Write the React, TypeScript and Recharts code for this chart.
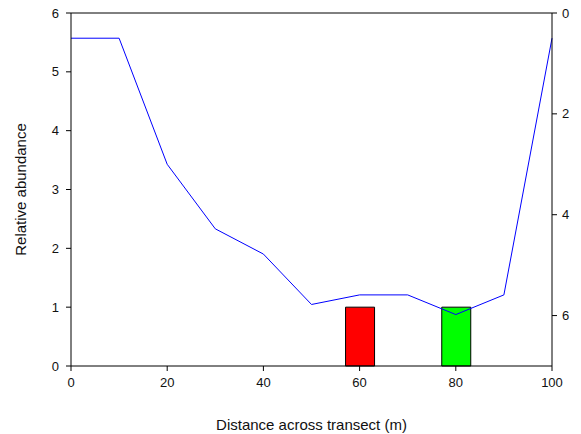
import React from 'react';
import { ComposedChart, Line, Bar, Cell, XAxis, YAxis, ReferenceLine } from 'recharts';

const distances = [0, 10, 20, 30, 40, 50, 60, 70, 80, 90, 100];
const depth = [0.5, 0.5, 3.0, 4.28, 4.78, 5.78, 5.59, 5.59, 5.98, 5.59, 0.5];
const barPositions = [60, 80];
const barValues = [1, 1];
const barColors = ['#ff0000', '#00ff00'];
const xTicks = [0, 20, 40, 60, 80, 100];
const leftTicks = [0, 1, 2, 3, 4, 5, 6];
const rightTicks = [0, 2, 4, 6];

const data = distances.map((d, i) => {
  const bi = barPositions.indexOf(d);
  return {
    x: d,
    depth: depth[i],
    abundance: bi >= 0 ? barValues[bi] : null,
    color: bi >= 0 ? barColors[bi] : 'none',
  };
});

const tickFont = { fontFamily: 'Liberation Sans, Arial, sans-serif', fontSize: 13, fill: '#111' };
const titleFont = { fontFamily: 'Liberation Sans, Arial, sans-serif', fontSize: 15, fill: '#111' };

export default function App() {
  return (
    <div style={{ position: 'absolute', left: 0, top: 0, background: '#fff' }}>
      <ComposedChart width={581} height={434} data={data} margin={{ top: 13, right: 0, bottom: 0, left: 0 }}>
        <XAxis
          dataKey="x"
          type="number"
          domain={[0, 100]}
          ticks={xTicks}
          height={68}
          tickSize={5}
          tickMargin={7}
          tick={tickFont}
          stroke="#000"
          tickLine={{ stroke: '#000' }}
          label={{ value: 'Distance across transect (m)', position: 'insideBottom', offset: 4, style: { ...titleFont, textAnchor: 'middle' } }}
        />
        <YAxis
          yAxisId="left"
          domain={[0, 6]}
          ticks={leftTicks}
          width={71}
          tickSize={5}
          tickMargin={7}
          tick={tickFont}
          stroke="#000"
          label={{ value: 'Relative abundance', angle: -90, position: 'insideLeft', offset: 21, style: { ...titleFont, textAnchor: 'middle' } }}
        />
        <YAxis
          yAxisId="right"
          orientation="right"
          reversed
          domain={[0, 7]}
          ticks={rightTicks}
          width={29}
          tickSize={5}
          tickMargin={5}
          tick={tickFont}
          stroke="#000"
        />
        <ReferenceLine yAxisId="left" y={6} stroke="#000" />
        <Bar yAxisId="left" dataKey="abundance" barSize={29} stroke="#000" strokeWidth={1} isAnimationActive={false}>
          {data.map((d, i) => (
            <Cell key={i} fill={d.color} />
          ))}
        </Bar>
        <Line yAxisId="right" dataKey="depth" type="linear" stroke="#0000ff" strokeWidth={1} dot={false} isAnimationActive={false} />
      </ComposedChart>
    </div>
  );
}
